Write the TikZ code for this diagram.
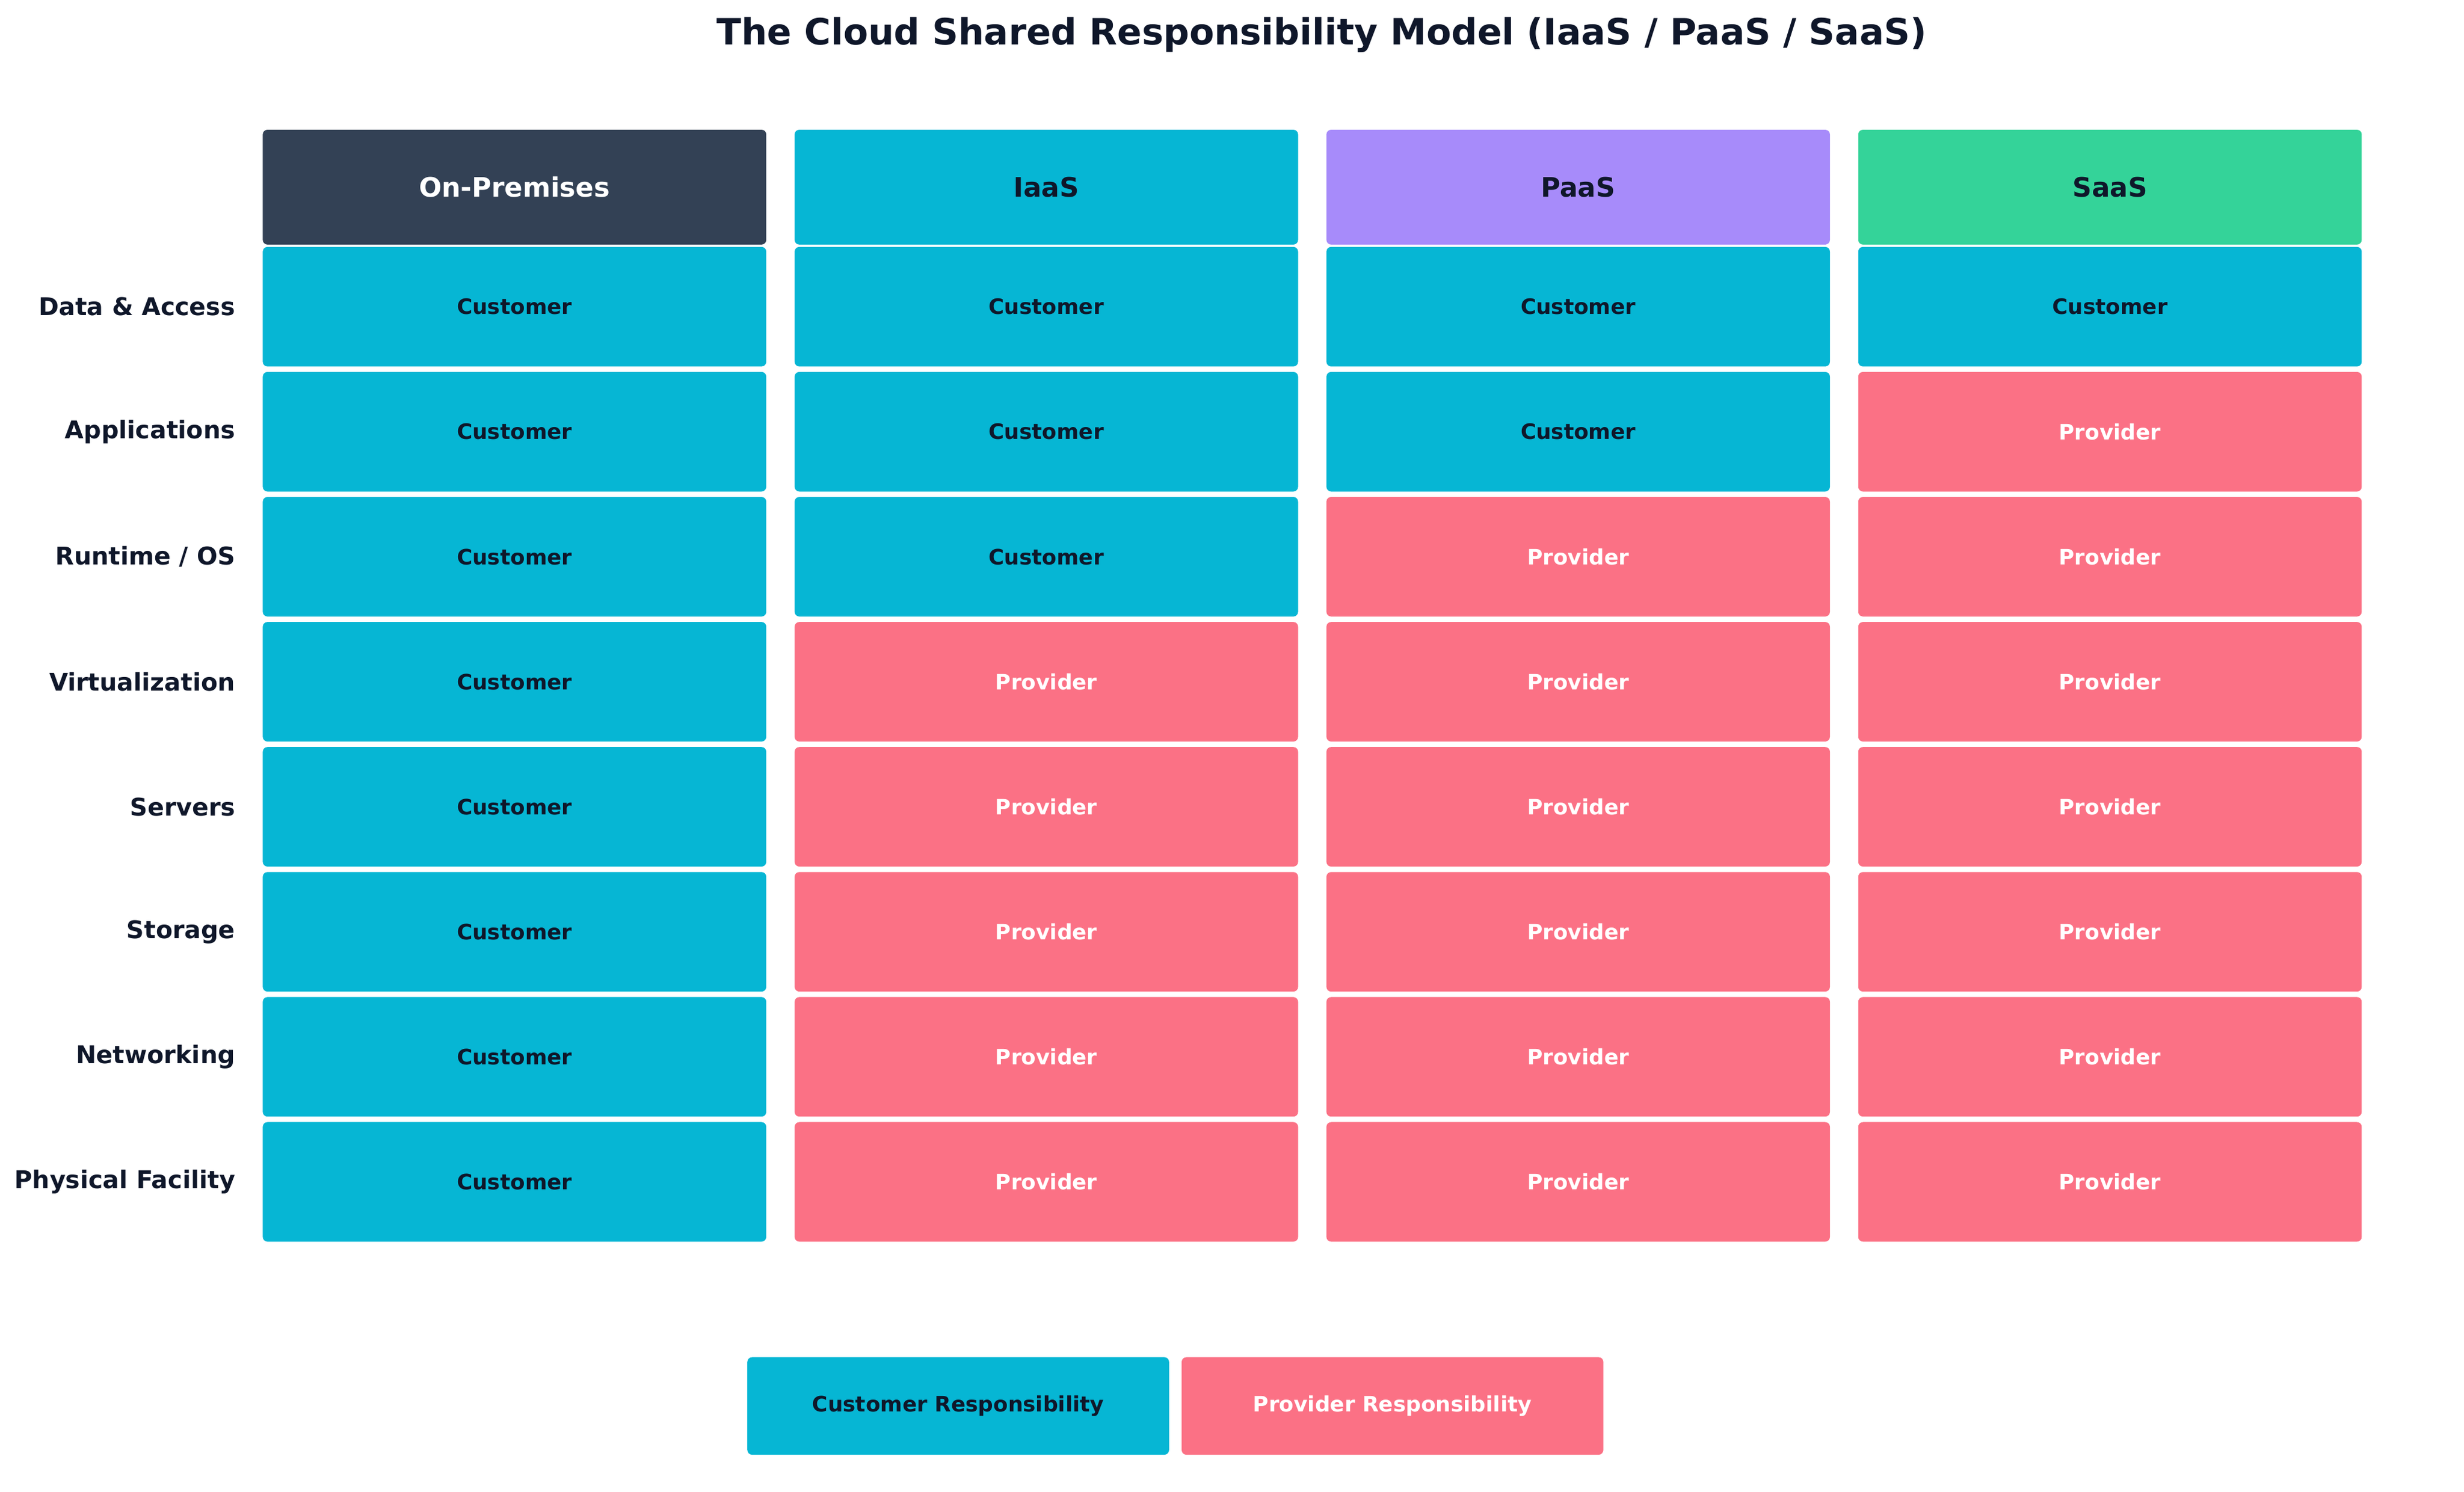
\documentclass[tikz,border=0pt]{standalone}
\usepackage{fontspec}
\setmainfont{DejaVu Sans}
\definecolor{dark}{HTML}{334155}
\definecolor{cust}{HTML}{06B6D4}
\definecolor{paas}{HTML}{A78BFA}
\definecolor{saas}{HTML}{34D399}
\definecolor{prov}{HTML}{FB7185}
\definecolor{ink}{HTML}{0F172A}
\begin{document}
\begin{tikzpicture}[x=1pt,y=-1pt,
 cell/.style={draw=none,rounded corners=3pt,minimum width=320pt,minimum height=76pt,font=\bfseries\fontsize{13.5}{15}\selectfont,anchor=center},
 C/.style={cell,fill=cust,text=ink},
 P/.style={cell,fill=prov,text=white},
 hdr/.style={cell,minimum height=73pt,font=\bfseries\fontsize{17}{19}\selectfont},
 lab/.style={anchor=east,font=\bfseries\fontsize{15.5}{18}\selectfont,text=ink}]
\useasboundingbox (0,0) rectangle (1566,948.7);
\node[font=\bfseries\fontsize{23}{26}\selectfont,text=ink] (title) at (840,22) {The Cloud Shared Responsibility Model (IaaS / PaaS / SaaS)};
\def\xa{327}\def\xb{665}\def\xc{1003}\def\xd{1341}
\node[hdr,fill=dark,text=white] (h1) at (\xa,119) {On-Premises};
\node[hdr,fill=cust,text=ink] (h2) at (\xb,119) {IaaS};
\node[hdr,fill=paas,text=ink] (h3) at (\xc,119) {PaaS};
\node[hdr,fill=saas,text=ink] (h4) at (\xd,119) {SaaS};
\foreach \i/\name/\a/\b/\c/\d in {0/{Data \& Access}/C/C/C/C,1/{Applications}/C/C/C/P,2/{Runtime / OS}/C/C/P/P,3/{Virtualization}/C/P/P/P,4/{Servers}/C/P/P/P,5/{Storage}/C/P/P/P,6/{Networking}/C/P/P/P,7/{Physical Facility}/C/P/P/P}{
 \pgfmathsetmacro\yy{195+79.5*\i}
 \node[lab] (l\i) at (153,\yy) {\name};
 \foreach \k/\s/\xx in {1/\a/\xa,2/\b/\xb,3/\c/\xc,4/\d/\xd}{
  \if C\s \node[C] (c\i\k) at (\xx,\yy) {Customer};
  \else \node[P] (c\i\k) at (\xx,\yy) {Provider}; \fi
 }
}
\node[C,minimum width=268pt,minimum height=62pt] (lc) at (609,894) {Customer Responsibility};
\node[P,minimum width=268pt,minimum height=62pt] (lp) at (885,894) {Provider Responsibility};
\end{tikzpicture}
\end{document}
